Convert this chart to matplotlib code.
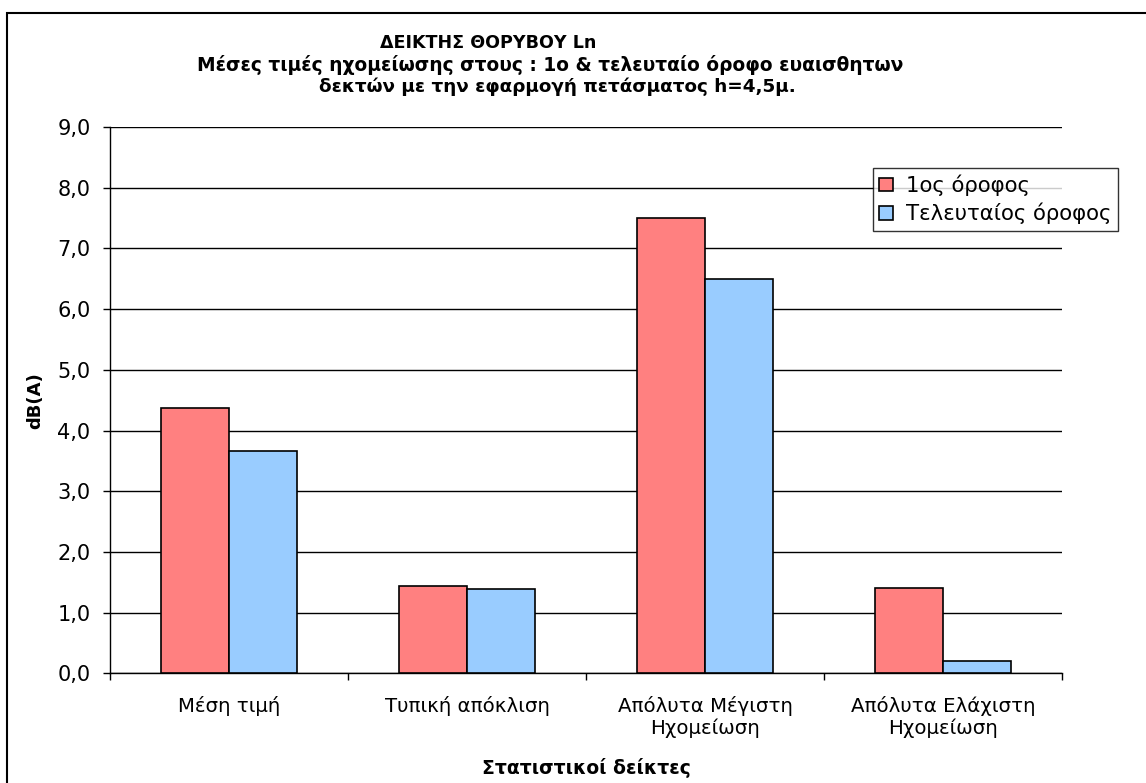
import matplotlib
matplotlib.use("Agg")
import numpy as np
import matplotlib.pyplot as plt
from matplotlib.patches import Rectangle
from matplotlib.ticker import FuncFormatter, FixedLocator

categories = ["Μέση τιμή", "Τυπική απόκλιση", "Απόλυτα Μέγιστη\nΗχομείωση",
              "Απόλυτα Ελάχιστη\nΗχομείωση"]
first_floor = [4.37, 1.44, 7.50, 1.41]
top_floor = [3.66, 1.39, 6.50, 0.21]
series_names = ["1ος όροφος", "Τελευταίος όροφος"]
title_lines = ["ΔΕΙΚΤΗΣ ΘΟΡΥΒΟΥ Ln",
               "Μέσες τιμές ηχομείωσης στους : 1ο & τελευταίο όροφο ευαισθητων",
               "δεκτών με την εφαρμογή πετάσματος h=4,5μ."]

plt.rcParams['font.family'] = ['DejaVu Sans']

W, H = 1146, 783
# plot area edges in pixels
L, R, T, B = 110, 1062, 127, 673.3
fig = plt.figure(figsize=(W / 100, H / 100), dpi=100)
ax = fig.add_axes([L / W, 1 - B / H, (R - L) / W, (B - T) / H])

x = np.arange(len(categories))
bw = 1 / 3.5
ax.bar(x - bw / 2, first_floor, bw, color="#FF8080", edgecolor="black", linewidth=1.2,
       label=series_names[0], zorder=3)
ax.bar(x + bw / 2, top_floor, bw, color="#99CCFF", edgecolor="black", linewidth=1.2,
       label=series_names[1], zorder=3)

ax.set_xlim(-0.5, len(categories) - 0.5)
ax.set_ylim(0, 9)
ax.set_yticks(np.arange(0, 9.5, 1))
ax.yaxis.set_major_formatter(FuncFormatter(lambda v, p: f"{v:.1f}".replace(".", ",")))
ax.grid(axis="y", color="black", linewidth=1, zorder=0)
ax.set_axisbelow(True)

ax.set_xticks(x)
ax.set_xticklabels(categories, fontsize=14.2, linespacing=1.22)
ax.xaxis.set_minor_locator(FixedLocator(np.arange(-0.5, len(categories), 1)))
ax.tick_params(axis="x", which="major", length=0, pad=16)
ax.tick_params(axis="x", which="minor", length=5, width=1, direction="out")
ax.tick_params(axis="y", length=5, width=1, direction="out", pad=9, labelsize=15)

for s in ["top", "right"]:
    ax.spines[s].set_visible(False)
for s in ["left", "bottom"]:
    ax.spines[s].set_linewidth(1)
    ax.spines[s].set_color("black")

ax.set_ylabel("dB(A)", fontsize=13, fontweight="bold")
ax.yaxis.set_label_coords((44 - L) / (R - L), 0.5)
ax.set_xlabel("Στατιστικοί δείκτες", fontsize=13.5, fontweight="bold")
ax.xaxis.set_label_coords(0.5, -(758 - B) / (B - T))

leg = ax.legend(loc="upper left", bbox_to_anchor=((873 - L) / (R - L), 1 - (168 - T) / (B - T)),
                fontsize=15.3, frameon=True, fancybox=False, edgecolor="black",
                handlelength=0.62, handleheight=0.62, handletextpad=0.65,
                borderpad=0.3, labelspacing=0.32, borderaxespad=0)
leg.get_frame().set_linewidth(1)
leg.set_zorder(5)

title_x = [488, 550, 557]
title_y = [43, 65, 87]
title_size = [12.6, 13.4, 13.2]
for t, tx, ty, fs in zip(title_lines, title_x, title_y, title_size):
    fig.text(tx / W, 1 - ty / H, t, ha="center", va="center", fontsize=fs, fontweight="bold")

# chart frame, open past the right and bottom edges
fig.patches.append(Rectangle((7 / W, -0.1), 1.2, 1 - 13 / H + 0.1, transform=fig.transFigure,
                             fill=False, edgecolor="black", linewidth=1.5))

fig.savefig("out.png", dpi=100)
